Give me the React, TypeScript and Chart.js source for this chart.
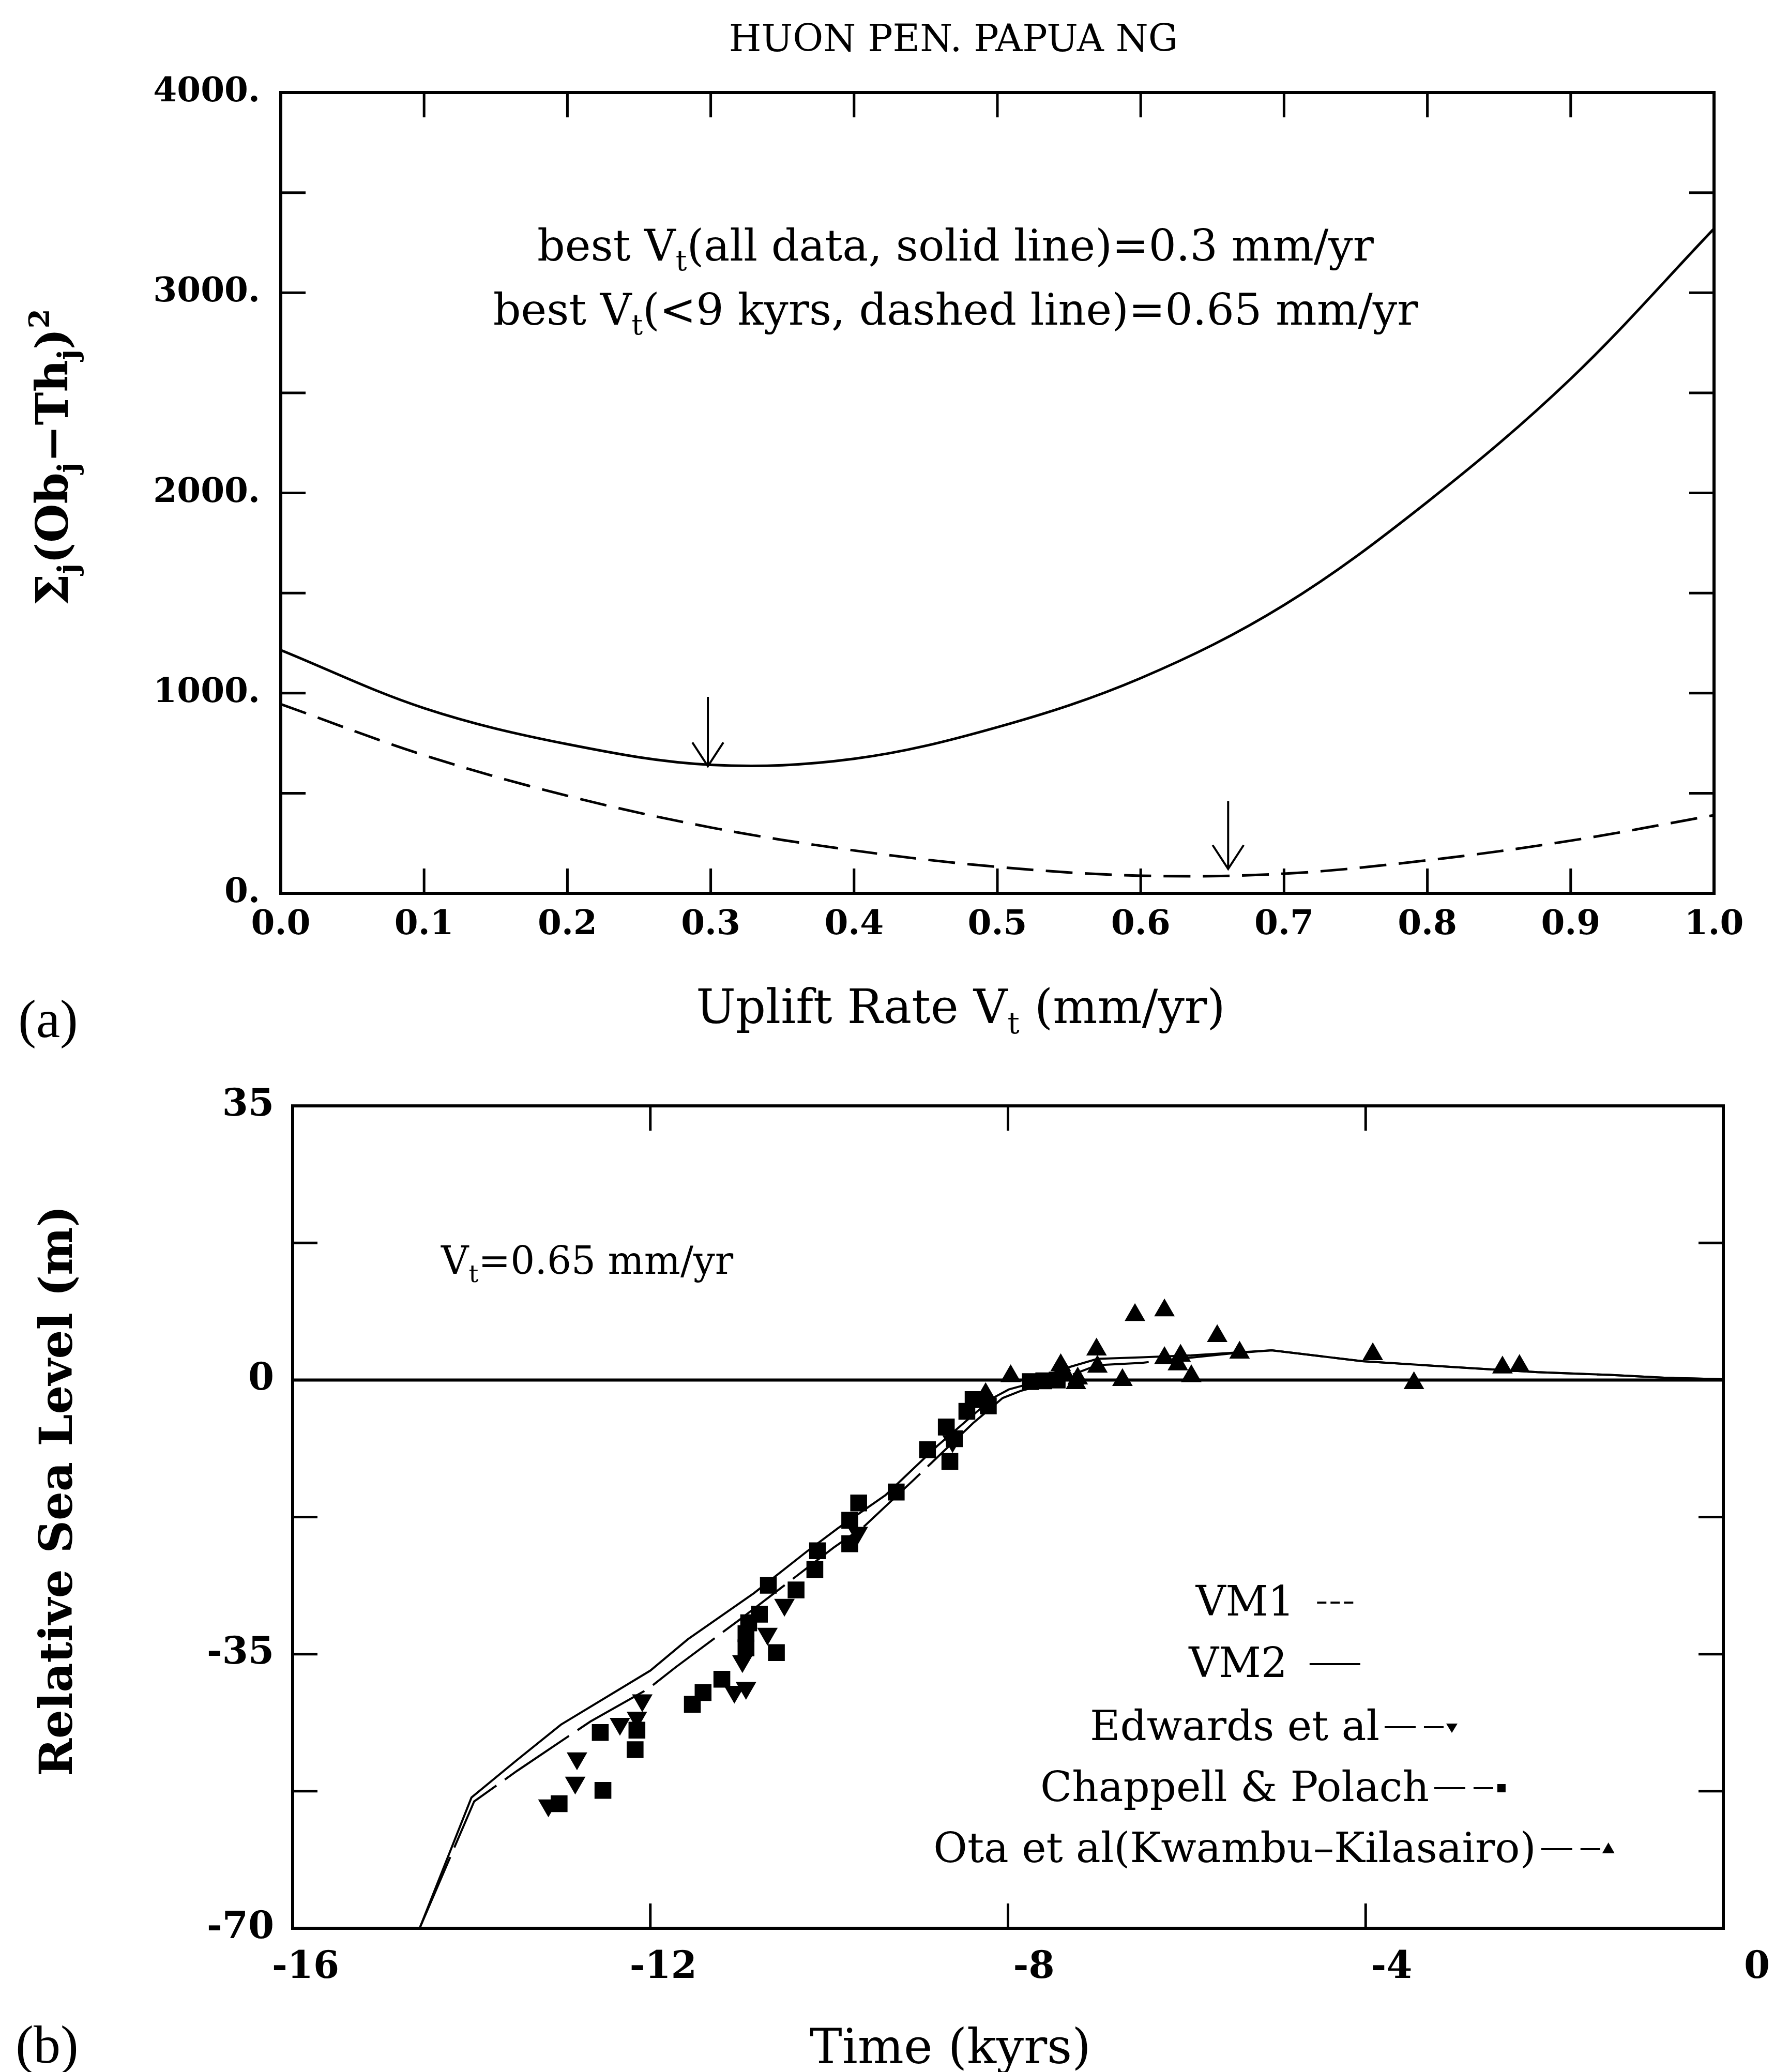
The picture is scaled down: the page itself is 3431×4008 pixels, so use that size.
import React, { useEffect, useRef } from 'react';
import { Chart, registerables } from 'chart.js';

Chart.register(...registerables);

const PAGE_W = 3431;
const PAGE_H = 4008;
const SPLIT = 2060;
const BOT_H = PAGE_H - SPLIT;

// ---------------- panel (a) data ----------------
const upliftRate = [0, 0.1, 0.2, 0.3, 0.4, 0.5, 0.6, 0.7, 0.8, 0.9, 1.0];
const misfitAllData = [1215, 925, 745, 642, 672, 830, 1075, 1440, 1955, 2570, 3320];
const misfitUnder9k = [945, 690, 487, 329, 214, 132, 88, 98, 165, 263, 390];
const arrowRate = [0.298, 0.661];
const arrowFrom = [981, 461];
const arrowTo = [635, 122];

// ---------------- panel (b) data ----------------
const vm2Time = [-14.58, -14.0, -13.5, -13.0, -12.0, -11.58, -10.84, -10.25, -9.9, -9.37, -8.79, -8.17, -7.99, -7.8, -7.6, -7.33, -7.0, -6.5, -5.95, -5.05, -4.04, -2.8, -2.08, -1.27, -0.66, 0];
const vm2Level = [-70, -53.3, -48.6, -44.0, -37.1, -33.1, -27.2, -21.9, -18.9, -14.7, -8.4, -2.3, -1.2, -0.6, 0.5, 1.6, 2.7, 2.9, 3.15, 3.8, 2.4, 1.5, 1.0, 0.65, 0.3, 0.1];
const vm1Time = [-14.58, -13.97, -13.49, -12.67, -12.02, -11.72, -10.99, -9.95, -9.6, -9.05, -8.39, -8.06, -7.86, -7.6, -7.3, -7.0, -6.5, -6.0, -5.5, -5.05, -4.04, -2.8, -2.08, -1.27, -0.66, 0];
const vm1Level = [-70, -53.8, -49.9, -43.6, -39.4, -36.7, -30.5, -21.4, -18.6, -12.7, -5.5, -2.3, -1.4, -0.6, 0.6, 1.9, 2.2, 2.8, 3.4, 3.8, 2.4, 1.5, 1.0, 0.65, 0.3, 0.1];
const presentTime = [-16, 0];
const presentLevel = [0, 0];

const edwardsTime = [-13.14, -12.84, -12.82, -12.34, -12.15, -12.09, -11.06, -10.93, -10.97, -10.69, -10.5, -9.68, -8.62];
const edwardsLevel = [-54.3, -51.4, -48.3, -43.9, -43.1, -40.9, -39.8, -39.3, -35.9, -32.4, -28.7, -19.5, -7.8];

const chappellTime = [-13.02, -12.56, -12.53, -12.15, -12.17, -11.53, -11.41, -11.2, -10.93, -10.93, -10.9, -10.78, -10.59, -10.68, -10.37, -10.16, -10.13, -9.77, -9.77, -9.67, -9.25, -8.9, -8.65, -8.69, -8.6, -8.46, -8.39, -8.22, -7.75, -7.6, -7.45];
const chappellLevel = [-54.1, -45.0, -52.4, -44.7, -47.2, -41.4, -39.9, -38.2, -34.2, -32.4, -31.0, -29.9, -34.8, -26.2, -26.8, -24.2, -21.8, -20.9, -17.9, -15.7, -14.3, -8.9, -10.4, -6.0, -7.5, -4.0, -2.5, -3.3, -0.2, -0.1, 0.0];

const otaTime = [-8.25, -7.97, -7.41, -7.37, -7.24, -7.22, -7.01, -7.0, -6.72, -6.58, -6.25, -6.25, -6.07, -6.1, -5.95, -5.66, -5.41, -3.92, -3.46, -2.47, -2.28];
const otaLevel = [-1.8, 0.5, 1.9, 0.9, -0.4, 0.2, 3.9, 1.7, 0.0, 8.3, 8.9, 2.8, 3.1, 2.0, 0.5, 5.6, 3.5, 3.3, -0.4, 1.6, 1.8];

// ---------------- text ----------------
const titleA = 'HUON PEN. PAPUA NG';
const noteA1 = [{ t: 'best V' }, { t: 't', s: 'sub' }, { t: '(all data, solid line)=0.3 mm/yr' }];
const noteA2 = [{ t: 'best V' }, { t: 't', s: 'sub' }, { t: '(<9 kyrs, dashed line)=0.65 mm/yr' }];
const xTitleA = [{ t: 'Uplift Rate V' }, { t: 't', s: 'sub' }, { t: ' (mm/yr)' }];
const yTitleA = [{ t: 'Σ' }, { t: 'j', s: 'sub' }, { t: '(Ob' }, { t: 'j', s: 'sub' }, { t: '−Th' }, { t: 'j', s: 'sub' }, { t: ')' }, { t: '2', s: 'sup' }];
const noteB = [{ t: 'V' }, { t: 't', s: 'sub' }, { t: '=0.65 mm/yr' }];
const xTitleB = [{ t: 'Time (kyrs)' }];
const yTitleB = [{ t: 'Relative Sea Level (m)' }];
const legendLabels = ['VM1', 'VM2', 'Edwards et al', 'Chappell & Polach', 'Ota et al(Kwambu–Kilasairo)'];
const legendSamples = ['shortdash', 'solid', 'dash-down', 'dash-square', 'dash-up'];

type Seg = { t: string; s?: string };

const SERIF = "'DejaVu Serif', serif";
const LIB = "'Liberation Serif', serif";

function pts(xs: number[], ys: number[]) {
  return xs.map((x, i) => ({ x, y: ys[i] }));
}

function drawRich(ctx: CanvasRenderingContext2D, segs: Seg[], x: number, yCenter: number, size: number, weight = 'normal', align = 'center', family = SERIF) {
  const fontFor = (s?: string) => `${weight} ${s ? Math.round(size * 0.64) : size}px ${family}`;
  let total = 0;
  for (const g of segs) {
    ctx.font = fontFor(g.s);
    total += ctx.measureText(g.t).width;
  }
  let cx = align === 'center' ? x - total / 2 : align === 'right' ? x - total : x;
  const base = yCenter + size * 0.36;
  ctx.textAlign = 'left';
  ctx.textBaseline = 'alphabetic';
  for (const g of segs) {
    ctx.font = fontFor(g.s);
    const dy = g.s === 'sub' ? size * 0.22 : g.s === 'sup' ? -size * 0.42 : 0;
    ctx.fillText(g.t, cx, base + dy);
    cx += ctx.measureText(g.t).width;
  }
  return total;
}

function drawRotated(ctx: CanvasRenderingContext2D, segs: Seg[], cx: number, cy: number, size: number, weight: string) {
  ctx.save();
  ctx.translate(cx, cy);
  ctx.rotate(-Math.PI / 2);
  drawRich(ctx, segs, 0, 0, size, weight, 'center');
  ctx.restore();
}

const framePlugin = {
  id: 'frame',
  afterDatasetsDraw(chart: any, _args: any, opts: any) {
    const { ctx, chartArea: a, scales } = chart;
    const L = opts.tickLength;
    ctx.save();
    ctx.strokeStyle = '#000';
    ctx.lineWidth = opts.tickWidth;
    ctx.beginPath();
    for (const t of scales.x.ticks) {
      const px = scales.x.getPixelForValue(t.value);
      if (px <= a.left + 3 || px >= a.right - 3) continue;
      ctx.moveTo(px, a.top); ctx.lineTo(px, a.top + L);
      ctx.moveTo(px, a.bottom); ctx.lineTo(px, a.bottom - L);
    }
    for (const t of scales.y.ticks) {
      const py = scales.y.getPixelForValue(t.value);
      if (py <= a.top + 3 || py >= a.bottom - 3) continue;
      ctx.moveTo(a.left, py); ctx.lineTo(a.left + L, py);
      ctx.moveTo(a.right, py); ctx.lineTo(a.right - L, py);
    }
    ctx.stroke();
    ctx.lineWidth = opts.frameWidth;
    ctx.strokeRect(a.left, a.top, a.right - a.left, a.bottom - a.top);
    ctx.restore();
  },
};

const decorA = {
  id: 'decorA',
  afterDraw(chart: any) {
    const { ctx, scales: { x, y } } = chart;
    ctx.save();
    ctx.strokeStyle = '#000';
    ctx.fillStyle = '#000';
    ctx.lineWidth = 4;
    arrowRate.forEach((r, i) => {
      const px = x.getPixelForValue(r);
      const y1 = y.getPixelForValue(arrowFrom[i]);
      const y2 = y.getPixelForValue(arrowTo[i]);
      ctx.beginPath();
      ctx.moveTo(px, y1); ctx.lineTo(px, y2);
      ctx.moveTo(px - 30, y2 - 46); ctx.lineTo(px, y2); ctx.lineTo(px + 30, y2 - 46);
      ctx.stroke();
    });
    drawRich(ctx, [{ t: titleA }], 1844, 73, 72);
    drawRich(ctx, noteA1, 1848, 474, 84);
    drawRich(ctx, noteA2, 1848, 598, 84);
    drawRich(ctx, xTitleA, 1858, 1946, 91);
    drawRotated(ctx, yTitleA, 100, 884, 86, 'bold');
    drawRich(ctx, [{ t: '(a)' }], 93, 1969, 104, 'normal', 'center', LIB);
    ctx.restore();
  },
};

function legendMarker(ctx: CanvasRenderingContext2D, kind: string, x: number, y: number) {
  ctx.beginPath();
  if (kind === 'down') {
    ctx.moveTo(x - 11, y - 7); ctx.lineTo(x + 11, y - 7); ctx.lineTo(x, y + 11);
  } else if (kind === 'up') {
    ctx.moveTo(x - 12, y + 8); ctx.lineTo(x + 12, y + 8); ctx.lineTo(x, y - 13);
  } else {
    ctx.rect(x - 8, y - 8, 16, 16);
  }
  ctx.closePath();
  ctx.fill();
}

const decorB = {
  id: 'decorB',
  afterDraw(chart: any) {
    const { ctx } = chart;
    ctx.save();
    ctx.strokeStyle = '#000';
    ctx.fillStyle = '#000';
    drawRich(ctx, noteB, 853, 377, 74, 'normal', 'left');
    drawRich(ctx, xTitleB, 1838, 1897, 94);
    drawRotated(ctx, yTitleB, 107, 824, 88, 'bold');
    drawRich(ctx, [{ t: '(b)' }], 91, 1893, 104, 'normal', 'center', LIB);

    // legend
    const rowY = [1036, 1155, 1277, 1395, 1513];
    const centerX = 2465;
    const size = 80;
    legendLabels.forEach((label, i) => {
      const kind = legendSamples[i];
      ctx.font = `${size}px ${SERIF}`;
      const tw = ctx.measureText(label).width;
      let gap = 10, len = 114, dash = [60, 16], extra = 30;
      if (kind === 'shortdash') { gap = 44; len = 70; dash = [18, 8]; extra = 0; }
      if (kind === 'solid') { gap = 43; len = 98; dash = []; extra = 0; }
      const total = tw + gap + len + extra;
      const x0 = centerX - total / 2;
      drawRich(ctx, [{ t: label }], x0, rowY[i], size, 'normal', 'left');
      const ly = rowY[i] + 4;
      ctx.lineWidth = 4;
      ctx.setLineDash(dash);
      ctx.beginPath();
      ctx.moveTo(x0 + tw + gap, ly);
      ctx.lineTo(x0 + tw + gap + len, ly);
      ctx.stroke();
      ctx.setLineDash([]);
      if (extra) {
        const mk = kind === 'dash-down' ? 'down' : kind === 'dash-up' ? 'up' : 'square';
        legendMarker(ctx, mk, x0 + tw + gap + len + 16, ly);
      }
    });
    ctx.restore();
  },
};

const tickFontA = { family: SERIF, weight: 'bold' as const, size: 66 };
const tickFontB = { family: SERIF, weight: 'bold' as const, size: 72 };

function configA(): any {
  return {
    type: 'scatter',
    data: {
      datasets: [
        { data: pts(upliftRate, misfitAllData), showLine: true, borderColor: '#000', borderWidth: 5, pointRadius: 0, tension: 0.35, fill: false },
        { data: pts(upliftRate, misfitUnder9k), showLine: true, borderColor: '#000', borderWidth: 5, borderDash: [52, 24], pointRadius: 0, tension: 0.35, fill: false },
      ],
    },
    options: {
      animation: false,
      responsive: false,
      events: [],
      layout: { padding: { left: 0, top: 179, right: PAGE_W - 3315, bottom: 0 } },
      plugins: {
        legend: { display: false },
        tooltip: { enabled: false },
        frame: { tickLength: 48, tickWidth: 5, frameWidth: 6 },
      },
      scales: {
        x: {
          type: 'linear', min: 0, max: 1,
          afterFit: (s: any) => { s.height = SPLIT - 1728; },
          grid: { display: false, drawTicks: false },
          border: { display: false },
          ticks: { stepSize: 0.1, padding: 22, autoSkip: false, maxRotation: 0, color: '#000', font: tickFontA, callback: (v: number) => v.toFixed(1) },
        },
        y: {
          type: 'linear', min: 0, max: 4000,
          afterFit: (s: any) => { s.width = 543; },
          grid: { display: false, drawTicks: false },
          border: { display: false },
          ticks: { stepSize: 500, padding: 40, autoSkip: false, color: '#000', font: tickFontA, callback: (v: number) => (Math.round(v) % 1000 === 0 ? `${Math.round(v)}.` : '') },
        },
      },
    },
    plugins: [framePlugin, decorA],
  };
}

function configB(): any {
  return {
    type: 'scatter',
    data: {
      datasets: [
        { data: pts(presentTime, presentLevel), showLine: true, borderColor: '#000', borderWidth: 6, pointRadius: 0, tension: 0 },
        { data: pts(vm1Time, vm1Level), showLine: true, borderColor: '#000', borderWidth: 4, borderDash: [150, 20], pointRadius: 0, tension: 0 },
        { data: pts(vm2Time, vm2Level), showLine: true, borderColor: '#000', borderWidth: 4, pointRadius: 0, tension: 0 },
        { data: pts(edwardsTime, edwardsLevel), pointStyle: 'triangle', rotation: 180, pointRadius: 23, backgroundColor: '#000', borderColor: '#000', borderWidth: 0 },
        { data: pts(chappellTime, chappellLevel), pointStyle: 'rect', pointRadius: 23, backgroundColor: '#000', borderColor: '#000', borderWidth: 0 },
        { data: pts(otaTime, otaLevel), pointStyle: 'triangle', pointRadius: 23, backgroundColor: '#000', borderColor: '#000', borderWidth: 0 },
      ],
    },
    options: {
      animation: false,
      responsive: false,
      events: [],
      layout: { padding: { left: 0, top: 65, right: PAGE_W - 3333, bottom: 0 } },
      plugins: {
        legend: { display: false },
        tooltip: { enabled: false },
        frame: { tickLength: 48, tickWidth: 5, frameWidth: 6 },
      },
      scales: {
        x: {
          type: 'linear', min: -16, max: 0,
          afterFit: (s: any) => { s.height = BOT_H - 1670; },
          grid: { display: false, drawTicks: false },
          border: { display: false },
          ticks: { stepSize: 4, padding: 34, align: 'end', labelOffset: 90, autoSkip: false, maxRotation: 0, color: '#000', font: tickFontB, callback: (v: number) => String(v) },
        },
        y: {
          type: 'linear', min: -70, max: 35,
          afterFit: (s: any) => { s.width = 566; },
          grid: { display: false, drawTicks: false },
          border: { display: false },
          ticks: { stepSize: 17.5, padding: 36, autoSkip: false, color: '#000', font: tickFontB, callback: (v: number) => (v % 35 === 0 ? String(v) : '') },
        },
      },
    },
    plugins: [framePlugin, decorB],
  };
}

export default function App() {
  const topRef = useRef<HTMLCanvasElement>(null);
  const botRef = useRef<HTMLCanvasElement>(null);
  useEffect(() => {
    const a = new Chart(topRef.current as HTMLCanvasElement, configA());
    const b = new Chart(botRef.current as HTMLCanvasElement, configB());
    return () => {
      a.destroy();
      b.destroy();
    };
  }, []);
  return (
    <div style={{ position: 'absolute', left: 0, top: 0, width: PAGE_W, height: PAGE_H, background: '#fff', overflow: 'hidden' }}>
      <canvas ref={topRef} width={PAGE_W} height={SPLIT} style={{ position: 'absolute', left: 0, top: 0, width: PAGE_W, height: SPLIT }} />
      <canvas ref={botRef} width={PAGE_W} height={BOT_H} style={{ position: 'absolute', left: 0, top: SPLIT, width: PAGE_W, height: BOT_H }} />
    </div>
  );
}
